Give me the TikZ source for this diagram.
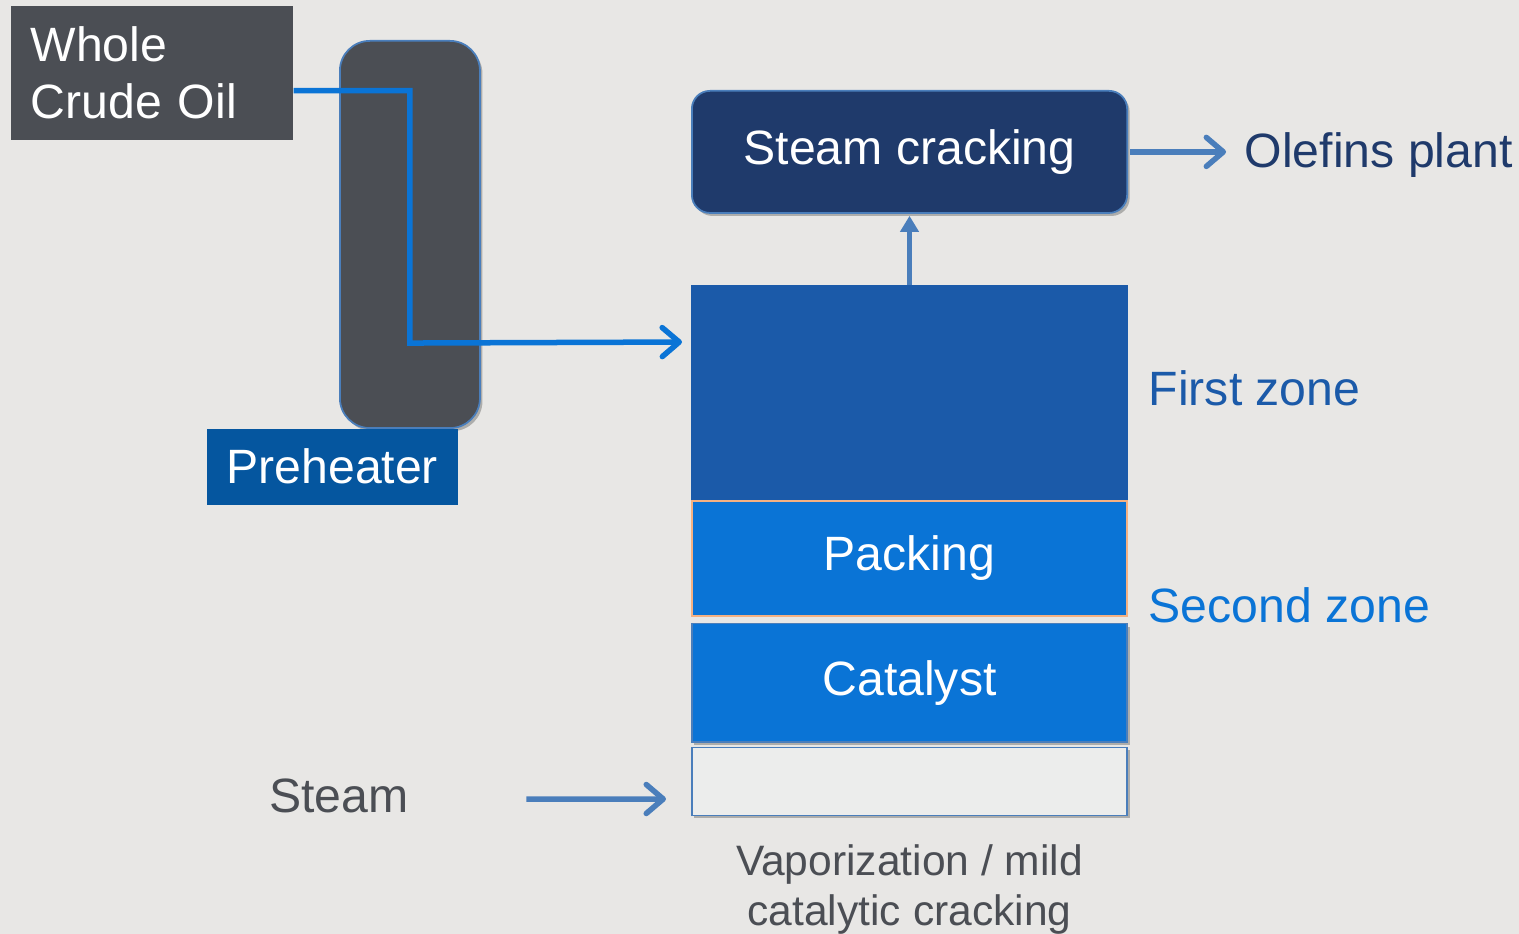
\documentclass[tikz,border=0pt]{standalone}
\usepackage{fontspec}
\setmainfont{Liberation Sans}
\usetikzlibrary{arrows.meta, positioning, calc, shadows}

\definecolor{bgcol}{HTML}{E8E7E5}
\definecolor{slate}{HTML}{4B4E54}
\definecolor{edgeblue}{HTML}{4A7EBB}
\definecolor{navy}{HTML}{1F3A6B}
\definecolor{zoneblue}{HTML}{1B5AA9}
\definecolor{brightblue}{HTML}{0A74D6}
\definecolor{tagblue}{HTML}{05569F}
\definecolor{pale}{HTML}{ECEDEC}
\definecolor{peach}{HTML}{F4B183}

\newcommand{\diagfont}{\fontsize{13.7}{16}\selectfont}

\tikzstyle{shade} = [drop shadow={shadow xshift=0.025cm, shadow yshift=-0.03cm, opacity=0.25, fill=black}]
\tikzstyle{layer} = [rectangle, draw=edgeblue, line width=0.5pt, minimum width=4.35cm, inner sep=0pt, text=white, font=\diagfont, anchor=north west]
\tikzstyle{tag} = [rectangle, inner sep=0pt, text=white, font=\diagfont, anchor=north west]
\tikzstyle{note} = [inner sep=0pt, font=\diagfont]
\tikzstyle{pipe} = [line width=0.055cm, draw=brightblue, -{Straight Barb[length=1.7mm,width=2.9mm,round]}]
\tikzstyle{flow} = [line width=0.055cm, draw=edgeblue, -{Straight Barb[length=1.7mm,width=2.9mm,round]}]

\begin{document}
\begin{tikzpicture}[x=0.01cm, y=-0.01cm]
    \fill[bgcol] (0,0) rectangle (1519,934);
    \useasboundingbox (0,0) rectangle (1519,934);

    % preheater column and its feed
    \node (column) [rectangle, fill=slate, draw=edgeblue, line width=0.5pt, rounded corners=0.3cm, shade,
                    minimum width=1.4cm, minimum height=3.87cm, anchor=north west] at (339,40) {};
    \node (crude) [tag, fill=slate, minimum width=2.82cm, minimum height=1.34cm,
                   text width=2.42cm, inner xsep=0.2cm, align=left, font=\fontsize{13.7}{16.3}\selectfont] at (10,5) {Whole\\Crude Oil};
    \node (heater) [tag, fill=tagblue, minimum width=2.51cm, minimum height=0.76cm] at (206,428) {Preheater};

    % reactor stack
    \node (zone1) [layer, fill=zoneblue, draw=zoneblue, minimum height=2.13cm] at (691,285) {};
    \node (packing) [layer, fill=brightblue, draw=peach, minimum height=1.15cm, below=0cm of zone1] {Packing};
    \node (catalyst) [layer, fill=brightblue, minimum height=1.18cm, shade, below=0.06cm of packing] {Catalyst};
    \node (vapor) [layer, fill=pale, minimum height=0.68cm, shade, below=0.04cm of catalyst] {};
    \node (cracker) [layer, fill=navy, rounded corners=0.18cm, minimum height=1.22cm, shade] at (691,90) {Steam cracking};

    % labels
    \node (olefins) [note, text=navy, right=1.16cm of cracker, yshift=-0.03cm] {Olefins plant};
    \node (first) [note, text=zoneblue, anchor=west] at ($(zone1.east)+(20,-4)$) {First zone};
    \node (second) [note, text=brightblue, anchor=west] at ($(packing.south east)+(20,-11)$) {Second zone};
    \node (steam) [note, text=slate] at (339,796) {Steam};
    \node (vaplabel) [note, text=slate, align=center, font=\fontsize{12.1}{14.2}\selectfont,
                      below=0.28cm of vapor] {Vaporization / mild\\catalytic cracking};

    % connections
    \draw [pipe, shorten >=0.09cm] ([yshift=-0.18cm]crude.east) -| ([yshift=-1.085cm]column.center)
          -- (zone1.west |- {(0,342)});
    \draw [line width=0.05cm, draw=edgeblue, -{Triangle[length=1.6mm,width=1.8mm]}, shorten >=0.02cm] (zone1.north) -- (cracker.south);
    \draw [flow, shorten <=0.02cm, shorten >=0.18cm] (cracker.east) -- (olefins.west |- cracker.east);
    \draw [flow, shorten >=0.25cm] ([xshift=1.17cm,yshift=-0.03cm]steam.east) -- (vapor.west |- {(0,799)});
\end{tikzpicture}
\end{document}
